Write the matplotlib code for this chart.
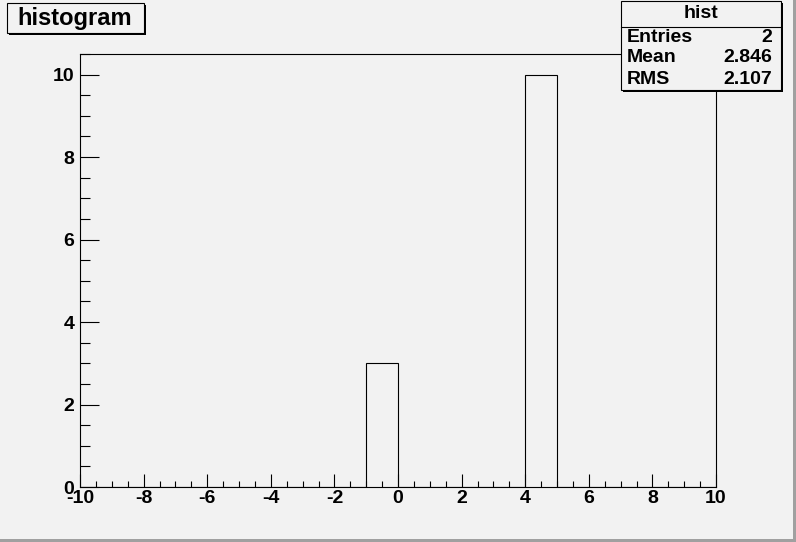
import numpy as np
import matplotlib
matplotlib.use('Agg')
import matplotlib.pyplot as plt
from matplotlib.patches import Rectangle
from matplotlib.ticker import MultipleLocator

# dados do histograma (preenchimentos com peso)
fill_x = [-1.0, 4.0]
fill_w = [3.0, 10.0]
bin_edges = np.arange(-10, 11, 1)
hist_name = 'hist'
hist_title = 'histogram'

counts, _ = np.histogram(fill_x, bins=bin_edges, weights=fill_w)
n_entries = len(fill_x)
media = np.average(fill_x, weights=fill_w)
rms = np.sqrt(np.average((np.array(fill_x) - media) ** 2, weights=fill_w))

plt.rcParams['font.family'] = ['Liberation Sans', 'DejaVu Sans']
plt.rcParams['font.weight'] = 'bold'
plt.rcParams['axes.unicode_minus'] = False

W, H = 796, 542
fig = plt.figure(figsize=(W / 100, H / 100), dpi=100, facecolor='#f2f2f2')

# borda do pad
fig.patches.append(Rectangle((0, 0), 1, 3 / H, transform=fig.transFigure,
                             facecolor='#a0a0a0', edgecolor='none'))
fig.patches.append(Rectangle((1 - 3 / W, 0), 3 / W, 1, transform=fig.transFigure,
                             facecolor='#a0a0a0', edgecolor='none'))

ax = fig.add_axes([80 / W, (H - 487) / H, 636 / W, 433 / H])
ax.set_facecolor('#f2f2f2')
ax.stairs(counts, bin_edges, color='black', linewidth=0.8, baseline=0)
ax.set_xlim(-10, 10)
ax.set_ylim(0, 1.05 * counts.max())

ax.xaxis.set_major_locator(MultipleLocator(2))
ax.xaxis.set_minor_locator(MultipleLocator(0.5))
ax.yaxis.set_major_locator(MultipleLocator(2))
ax.yaxis.set_minor_locator(MultipleLocator(0.5))
ax.tick_params(axis='x', which='major', direction='in', length=9.5, width=0.8, labelsize=14, pad=2)
ax.tick_params(axis='x', which='minor', direction='in', length=4.5, width=0.8)
ax.tick_params(axis='y', which='major', direction='in', length=13.5, width=0.8, labelsize=14, pad=4)
ax.tick_params(axis='y', which='minor', direction='in', length=7, width=0.8)
for s in ax.spines.values():
    s.set_linewidth(0.8)

# caixa do titulo
fig.patches.append(Rectangle((9 / W, (H - 35) / H), 137 / W, 30 / H, transform=fig.transFigure,
                             facecolor='black', edgecolor='none'))
fig.patches.append(Rectangle((7 / W, (H - 33) / H), 137 / W, 30 / H, transform=fig.transFigure,
                             facecolor='#f2f2f2', edgecolor='black', linewidth=0.8))
fig.text(75 / W, (H - 18) / H, hist_title, fontsize=17, fontweight='bold',
         ha='center', va='center')

# caixa de estatisticas
fig.patches.append(Rectangle((623 / W, (H - 92) / H), 160 / W, 89 / H, transform=fig.transFigure,
                             facecolor='black', edgecolor='none', zorder=5))
fig.patches.append(Rectangle((621 / W, (H - 90) / H), 160 / W, 89 / H, transform=fig.transFigure,
                             facecolor='#f2f2f2', edgecolor='black', linewidth=0.8, zorder=6))
fig.lines.append(plt.Line2D([621 / W, 781 / W], [(H - 27) / H] * 2, transform=fig.transFigure,
                            color='black', linewidth=0.8, zorder=7))
fig.text(701 / W, (H - 14) / H, hist_name, fontsize=14, ha='center', va='center', zorder=8)
linhas = [('Entries', '%d' % n_entries), ('Mean', '%.3f' % media), ('RMS', '%.3f' % rms)]
for i, (k, v) in enumerate(linhas):
    y = (H - 37 - 21 * i) / H
    fig.text(627 / W, y, k, fontsize=14, ha='left', va='center', zorder=8)
    fig.text(772 / W, y, v, fontsize=14, ha='right', va='center', zorder=8)

fig.savefig('out.png', dpi=100, facecolor=fig.get_facecolor())
